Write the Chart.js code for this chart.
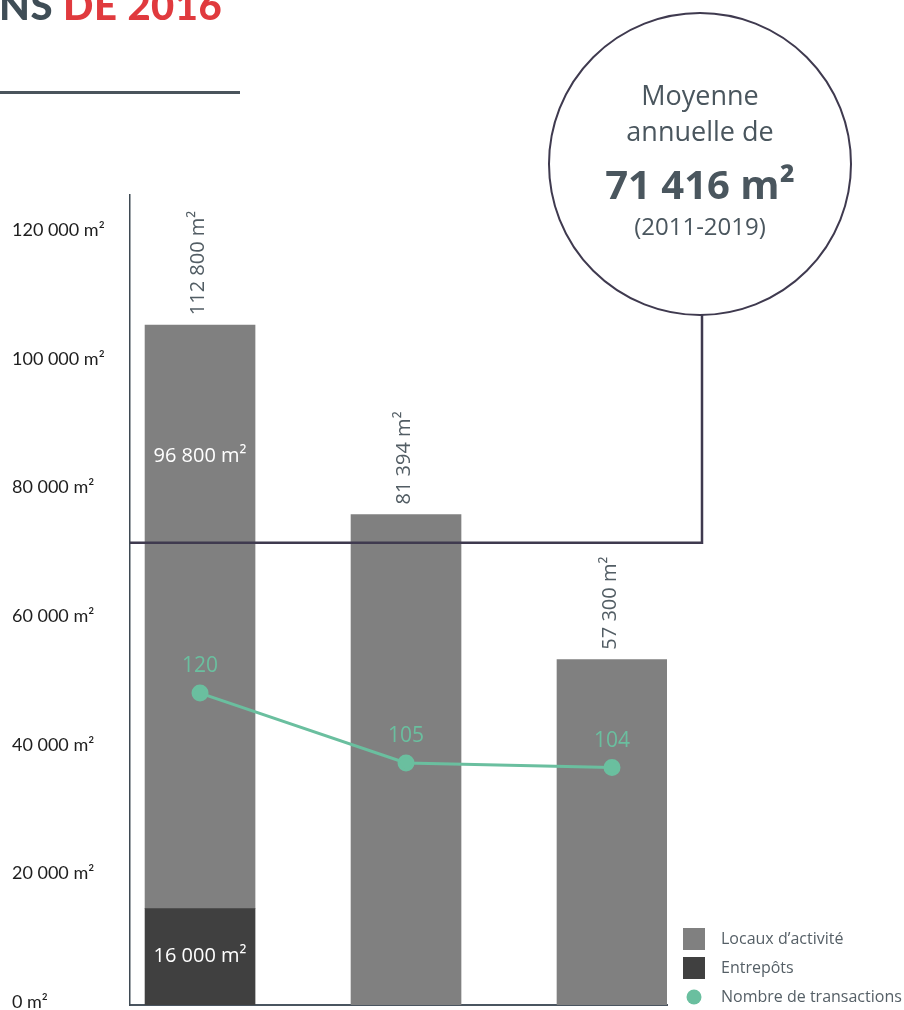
<!DOCTYPE html>
<html lang="fr">
<head>
<meta charset="utf-8">
<title>Surfaces et transactions</title>
<script src="https://cdn.jsdelivr.net/npm/chart.js@4.4.1/dist/chart.umd.min.js"></script>
<style>
  html, body { margin: 0; padding: 0; background: #fff; }
  #wrap { position: relative; width: 904px; height: 1010px; overflow: hidden; }
  #wrap canvas { position: absolute; left: 0; top: 0; }
  #titre { position: absolute; left: -1px; top: -19px; font-family: Lato, sans-serif; font-weight: 900; font-size: 40px; color: #3f4d56; white-space: nowrap; letter-spacing: 0.5px; }
  #titre span { color: #e03a3e; }
  #trait { position: absolute; left: 0; top: 91px; width: 240px; height: 3px; background: #4a545c; }
</style>
</head>
<body>
<div id="wrap">
  <canvas id="graphique" width="904" height="1010"></canvas>
  <div id="titre">NS <span>DE 2016</span></div>
  <div id="trait"></div>
</div>
<script>
// données
const categories = ['Barre 1', 'Barre 2', 'Barre 3'];
const locaux = [96800, 81394, 57300];
const entrepots = [16000, null, null];
const transactions = [120, 105, 104];
const moyenne = 71416;
const periodeMoyenne = '(2011-2019)';
const yTicks = [0, 20000, 40000, 60000, 80000, 100000, 120000];

const GRIS = '#808080';
const FONCE = '#404040';
const VERT = '#6abf9f';
const ARDOISE = '#525d64';
const TRAIT = '#3f3a4f';
const sans = '"Open Sans", sans-serif';

const fmt = v => String(v).replace(/\B(?=(\d{3})+(?!\d))/g, ' ');
const toXY = arr => arr.map((v, i) => ({ x: i, y: v }));

// étiquettes, ligne de moyenne, bulle et légende
const decor = {
  id: 'decor',
  afterDatasetsDraw(chart) {
    const { ctx, chartArea, scales } = chart;
    const barsE = chart.getDatasetMeta(0).data;
    const barsL = chart.getDatasetMeta(1).data;
    const pts = chart.getDatasetMeta(2).data;
    ctx.save();

    // totaux verticaux au-dessus des barres
    ctx.font = '20px ' + sans;
    ctx.fillStyle = ARDOISE;
    barsL.forEach((b, i) => {
      const total = locaux[i] + (entrepots[i] || 0);
      ctx.save();
      ctx.translate(b.x - 2, b.y - 10);
      ctx.rotate(-Math.PI / 2);
      ctx.textAlign = 'left';
      ctx.textBaseline = 'middle';
      ctx.fillText(fmt(total) + ' m²', 0, 0);
      ctx.restore();
    });

    // valeurs dans la barre empilée
    ctx.fillStyle = '#fff';
    ctx.textAlign = 'center';
    ctx.textBaseline = 'middle';
    barsE.forEach((b, i) => {
      if (!entrepots[i]) return;
      ctx.fillText(fmt(entrepots[i]) + ' m²', b.x, (b.y + b.base) / 2);
      const l = barsL[i];
      ctx.fillText(fmt(locaux[i]) + ' m²', l.x, l.y + 0.225 * (l.base - l.y));
    });

    // nombre de transactions
    ctx.font = '21px ' + sans;
    ctx.fillStyle = VERT;
    pts.forEach((p, i) => {
      ctx.fillText(String(transactions[i]), p.x, p.y - 27);
    });

    // ligne de moyenne reliée à la bulle
    const cx = 700, cy = 164, r = 151;
    const yMoy = scales.y.getPixelForValue(moyenne);
    ctx.strokeStyle = TRAIT;
    ctx.lineWidth = 2.5;
    ctx.beginPath();
    ctx.moveTo(chartArea.left, yMoy);
    ctx.lineTo(cx + 2, yMoy);
    ctx.lineTo(cx + 2, cy + r);
    ctx.stroke();

    ctx.beginPath();
    ctx.arc(cx, cy, r, 0, Math.PI * 2);
    ctx.fillStyle = '#fff';
    ctx.fill();
    ctx.lineWidth = 2;
    ctx.stroke();

    ctx.fillStyle = '#4a565e';
    ctx.textAlign = 'center';
    ctx.textBaseline = 'alphabetic';
    ctx.font = '27px ' + sans;
    ctx.fillText('Moyenne', cx, 105);
    ctx.fillText('annuelle de', cx, 141);
    ctx.font = 'bold 40px ' + sans;
    ctx.fillText(fmt(moyenne) + ' m²', cx, 199);
    ctx.font = '24px ' + sans;
    ctx.fillText(periodeMoyenne, cx, 235);

    // légende
    const items = [1, 0, 2].map(k => chart.data.datasets[k]);
    ctx.font = '16px ' + sans;
    ctx.textAlign = 'left';
    ctx.textBaseline = 'middle';
    items.forEach((ds, i) => {
      const y = 939 + i * 29;
      ctx.fillStyle = ds.backgroundColor;
      if (ds.type === 'line') {
        ctx.beginPath();
        ctx.arc(694, y, 7.5, 0, Math.PI * 2);
        ctx.fill();
      } else {
        ctx.fillRect(683, y - 11, 22, 22);
      }
      ctx.fillStyle = '#555f66';
      ctx.fillText(ds.label, 721, y);
    });

    ctx.restore();
  }
};

new Chart(document.getElementById('graphique'), {
  type: 'bar',
  data: {
    labels: categories,
    datasets: [
      {
        label: 'Entrepôts',
        data: toXY(entrepots),
        backgroundColor: FONCE,
        yAxisID: 'yBar',
        stack: 'surface',
        barThickness: 110,
        order: 1
      },
      {
        label: 'Locaux d’activité',
        data: toXY(locaux),
        backgroundColor: GRIS,
        yAxisID: 'yBar',
        stack: 'surface',
        barThickness: 110,
        order: 1
      },
      {
        type: 'line',
        label: 'Nombre de transactions',
        data: toXY(transactions),
        borderColor: VERT,
        backgroundColor: VERT,
        borderWidth: 3,
        pointRadius: 7,
        pointHoverRadius: 7,
        yAxisID: 'yT',
        order: 0
      }
    ]
  },
  options: {
    responsive: false,
    animation: false,
    devicePixelRatio: 1,
    layout: { autoPadding: false, padding: { left: 12, top: 195, right: 237, bottom: 5 } },
    plugins: {
      legend: { display: false },
      tooltip: { enabled: false }
    },
    scales: {
      x: {
        type: 'linear',
        min: -0.34,
        max: 2.267,
        offset: false,
        stacked: true,
        grid: { display: false },
        ticks: { display: false },
        border: { color: '#4a5560', width: 2 },
        afterFit: s => { s.height = 0; }
      },
      y: {
        position: 'left',
        min: -466,
        max: 125470,
        bounds: 'data',
        grid: { display: false },
        border: { color: '#3f4a54', width: 1.5 },
        ticks: {
          crossAlign: 'far',
          color: '#1e1e1e',
          font: { family: 'Lato', size: 18 },
          callback: v => fmt(v) + ' m²'
        },
        afterBuildTicks: s => { s.ticks = yTicks.map(value => ({ value })); },
        afterFit: s => { s.width = 118; s.paddingTop = 0; s.paddingBottom = 0; }
      },
      yBar: {
        display: false,
        stacked: true,
        min: 0,
        max: 134400
      },
      yT: {
        display: false,
        min: 53,
        max: 227
      }
    }
  },
  plugins: [decor]
});
</script>
</body>
</html>
